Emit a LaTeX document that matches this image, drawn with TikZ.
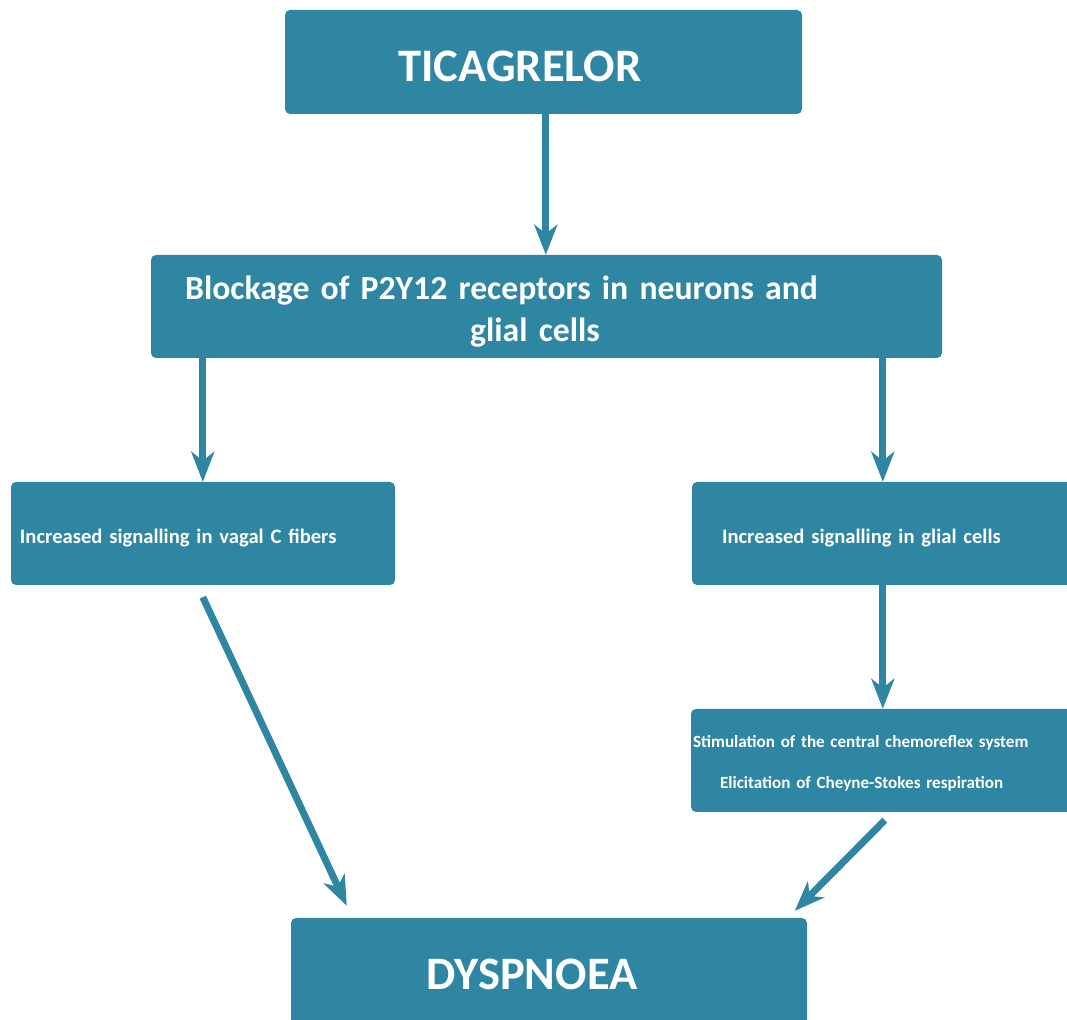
\documentclass[tikz,border=0pt]{standalone}
\usepackage{fontspec}
\setmainfont{Carlito}
\usetikzlibrary{arrows.meta,calc}
\definecolor{boxteal}{RGB}{46,134,163}
\tikzset{
  box/.style={fill=boxteal, rounded corners=5pt, text=white, font=\bfseries,
    inner sep=0pt, minimum height=103pt, anchor=center},
  arr/.style={draw=boxteal, line width=7pt,
    -{Stealth[length=30pt,width=23pt,inset=9pt]}}
}
\begin{document}
\begin{tikzpicture}[x=1pt,y=1pt]
\useasboundingbox (0,0) rectangle (1067,1019);
% boxes
\node[box, minimum width=517pt, minimum height=104pt, text width=517pt,
  text height=40pt, text depth=0pt,
  font=\bfseries\fontsize{46.6}{50}\selectfont] (tic) at (543.5,957)
  {\makebox[517pt][l]{\makebox[470pt]{TICAGRELOR}}};
\node[box, minimum width=791pt, text width=791pt, align=left,
  text height=27pt, text depth=40pt,
  font=\bfseries\fontsize{33.7}{42}\selectfont] (blk) at (546.5,712.5)
  {\makebox[791pt][l]{\makebox[701pt]{Blockage of P2Y12 receptors in neurons and}}\\
   \makebox[791pt][l]{\makebox[768pt]{glial cells}}};
\node[box, minimum width=384pt, text width=384pt, align=left,
  text height=21pt, text depth=0pt,
  font=\bfseries\fontsize{20.6}{24}\selectfont] (left) at (203,485.5)
  {\hspace*{9pt}Increased signalling in vagal C fibers};
\node[box, minimum width=393pt, text width=393pt, align=left,
  text height=21pt, text depth=0pt,
  font=\bfseries\fontsize{20.6}{24}\selectfont] (right) at (888.5,485.5)
  {\hspace*{30pt}Increased signalling in glial cells};
\node[box, minimum width=394pt, text width=394pt, align=left,
  text height=15pt, text depth=40pt,
  font=\bfseries\fontsize{17.1}{41}\selectfont] (stim) at (888,258.5)
  {\hspace*{2pt}Stimulation of the central chemoreflex system\\
   \hspace*{29pt}Elicitation of Cheyne-Stokes respiration};
\node[box, minimum width=516pt, minimum height=112pt, text width=516pt,
  font=\bfseries\fontsize{46.5}{50}\selectfont] (dys) at (549,45)
  {\makebox[516pt][l]{\makebox[482pt]{DYSPNOEA}}};
% connectors
\draw[arr] ([xshift=261pt]tic.south west) -- ([xshift=261pt]tic.south west |- blk.north);
\draw[arr] ([xshift=52pt]blk.south west) -- ([xshift=52pt]blk.south west |- left.north);
\draw[arr] ([xshift=732pt]blk.south west) -- ([xshift=732pt]blk.south west |- right.north);
\draw[arr] ([xshift=191pt]right.south west) -- ([xshift=191pt]right.south west |- stim.north);
\draw[arr] ([shift={(192pt,-12pt)}]left.south west) -- ([shift={(56pt,12pt)}]dys.north west);
\draw[arr] ([shift={(194pt,-8pt)}]stim.south west) -- ([shift={(504pt,7pt)}]dys.north west);
\end{tikzpicture}
\end{document}
